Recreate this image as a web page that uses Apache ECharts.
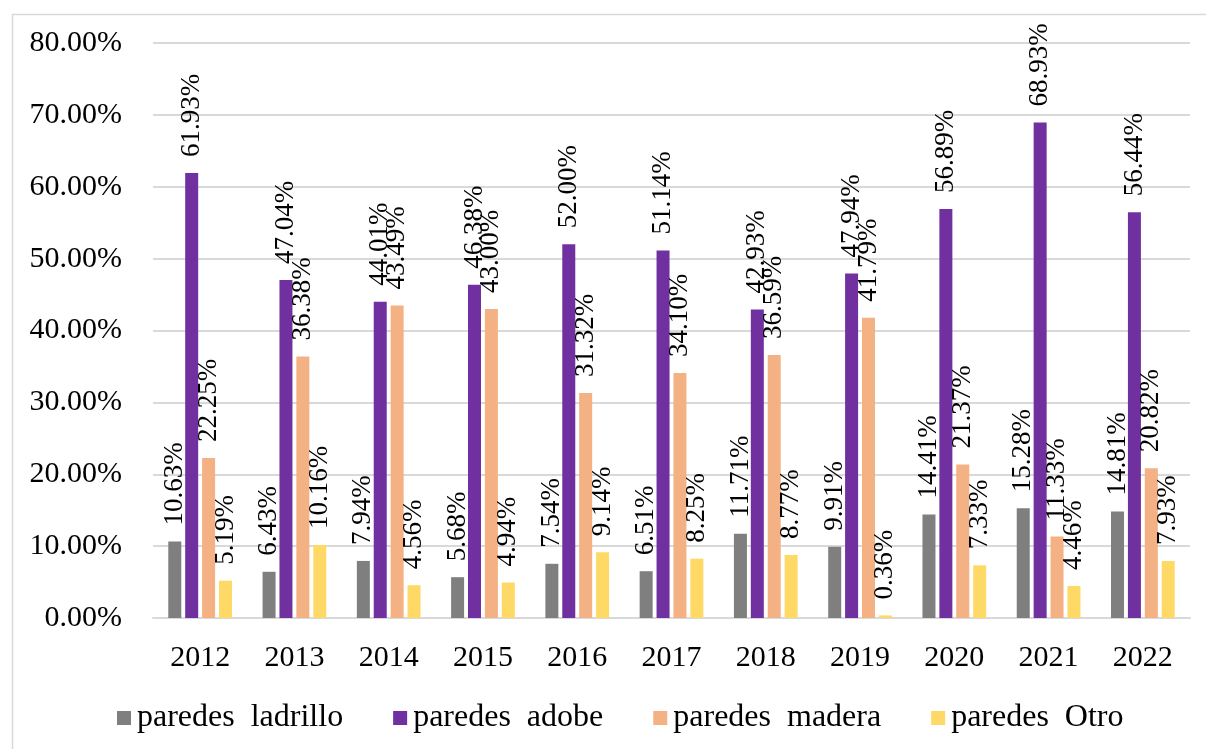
<!DOCTYPE html>
<html>
<head>
<meta charset="utf-8">
<script src="https://cdn.jsdelivr.net/npm/echarts@6/dist/echarts.min.js"></script>
<style>html,body{margin:0;padding:0;background:#fff;}#c{width:1206px;height:749px;}</style>
</head>
<body>
<div id="c"></div>
<script>
var categories = ['2012','2013','2014','2015','2016','2017','2018','2019','2020','2021','2022'];
var seriesNames = ['paredes  ladrillo','paredes  adobe','paredes  madera','paredes  Otro'];
var ladrillo = [10.63, 6.43, 7.94, 5.68, 7.54, 6.51, 11.71, 9.91, 14.41, 15.28, 14.81];
var adobe = [61.93, 47.04, 44.01, 46.38, 52.00, 51.14, 42.93, 47.94, 56.89, 68.93, 56.44];
var madera = [22.25, 36.38, 43.49, 43.00, 31.32, 34.10, 36.59, 41.79, 21.37, 11.33, 20.82];
var otro = [5.19, 10.16, 4.56, 4.94, 9.14, 8.25, 8.77, 0.36, 7.33, 4.46, 7.93];
var colors = ['#7f7f7f','#7030a0','#f4b183','#ffd966'];

var FONT = '"Liberation Serif", "Times New Roman", serif';
var chart = echarts.init(document.getElementById('c'), null, {renderer:'canvas'});
function mk(name, data, color) {
  return {
    name: name, type: 'bar', data: data, barWidth: 13, barGap: '30%',
    itemStyle: {color: color},
    label: {
      show: true, position: 'top', rotate: 90, distance: 16,
      align: 'left', verticalAlign: 'middle',
      fontFamily: FONT, fontSize: 27, color: '#000',
      formatter: function(p){ return p.value.toFixed(2) + '%'; }
    }
  };
}
chart.setOption({
  animation: false,
  graphic: [{type:'rect', left:10, top:12, shape:{x:0,y:0,width:1210,height:750}, style:{fill:'none', stroke:'#d9d9d9', lineWidth:1.5}}],
  grid: {left:153, right:16, top:43, bottom:131, containLabel:false},
  legend: {
    bottom: 10, left: 112, itemWidth: 14, itemHeight: 14, itemGap: 50,
    icon: 'rect',
    textStyle: {fontFamily: FONT, fontSize: 32, color: '#000', padding:[0,0,0,1]},
    data: seriesNames
  },
  xAxis: {
    type: 'category', data: categories,
    axisLine: {show:true, lineStyle:{color:'#d9d9d9', width:2}},
    axisTick: {show:false},
    axisLabel: {fontFamily: FONT, fontSize: 30, color:'#000', margin: 25}
  },
  yAxis: {
    type: 'value', min: 0, max: 80, interval: 10,
    axisLine: {show:false}, axisTick:{show:false},
    splitLine: {lineStyle:{color:'#d9d9d9', width:2}},
    axisLabel: {fontFamily: FONT, fontSize: 30, color:'#000', margin: 31,
      formatter: function(v){ return v.toFixed(2) + '%'; }}
  },
  series: [mk(seriesNames[0], ladrillo, colors[0]), mk(seriesNames[1], adobe, colors[1]), mk(seriesNames[2], madera, colors[2]), mk(seriesNames[3], otro, colors[3])]
});
</script>
</body>
</html>
